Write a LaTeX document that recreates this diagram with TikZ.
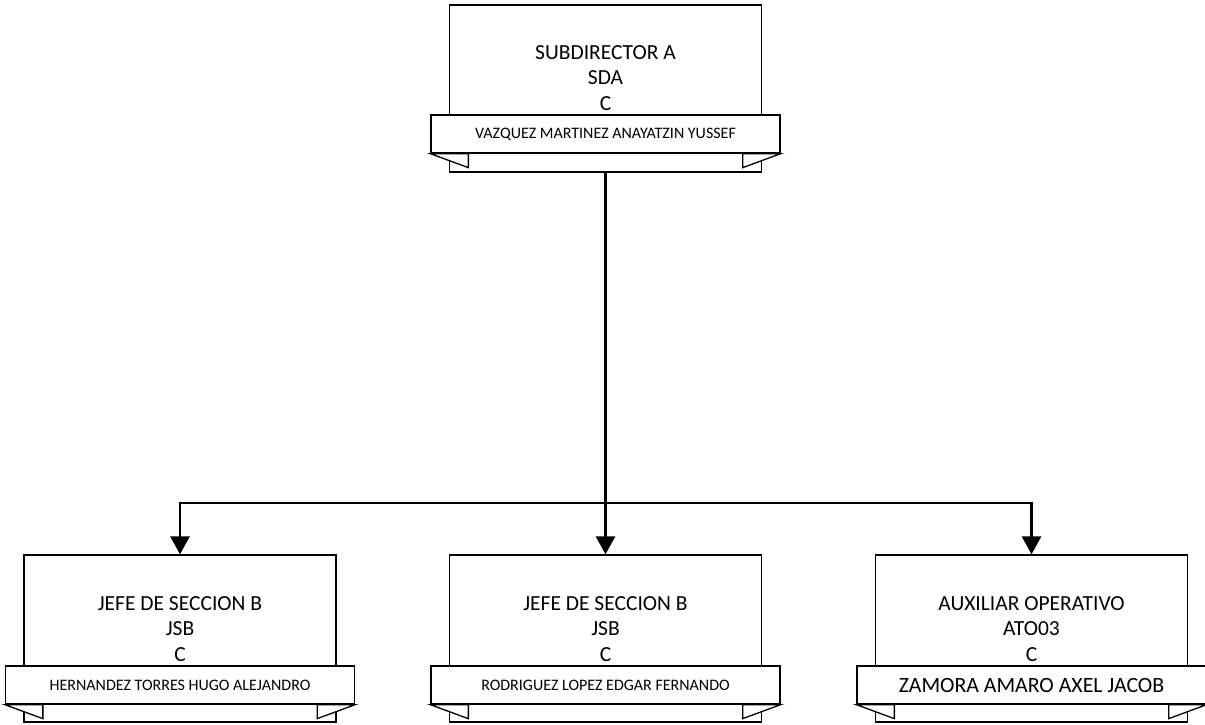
\documentclass[tikz,border=0pt]{standalone}
\usepackage{fontspec}
\setmainfont{Carlito}
\usetikzlibrary{arrows.meta}
\tikzset{
  boxst/.style={draw=black, line width=1.3pt, fill=white, rectangle, minimum width=312pt, inner sep=0pt},
  bannerst/.style={draw=black, line width=1.3pt, fill=white, rectangle, minimum width=349pt, minimum height=38pt, inner sep=0pt},
  tabst/.style={draw=black, line width=1.3pt, fill=white, line join=miter},
  titlest/.style={align=center, inner sep=0pt, font=\fontsize{21.5}{25.5}\selectfont},
  smallname/.style={font=\fontsize{16}{18}\selectfont},
  bigname/.style={font=\fontsize{21.8}{25}\selectfont},
  conn/.style={draw=black, line width=2.7pt, -{Triangle[width=19pt,length=18pt]}},
}
\newcommand{\orgunit}[7]{%
  \node[boxst, minimum height={(#4)-(#3)}] (#1) at (#2,{((#3)+(#4))/2}) {};
  \node[bannerst, #7] (#1b) at (#2,{(#5)+19}) {#6};
  \draw[tabst] (#1b.south west) -- ++(38,14) -- ++(0,-14) -- cycle;
  \draw[tabst] (#1b.south east) -- ++(-38,14) -- ++(0,-14) -- cycle;
}
\begin{document}
\begin{tikzpicture}[x=1pt,y=-1pt]
\useasboundingbox (0,0) rectangle (1205,724);
\fill[white] (0,0) rectangle (1205,724);
% top unit
\orgunit{top}{605.5}{5}{172}{115}{VAZQUEZ MARTINEZ ANAYATZIN YUSSEF}{smallname}
\node[titlest] (topt) at (605.5,78) {SUBDIRECTOR A\\SDA\\C};
% bottom units
\orgunit{left}{180}{555}{722}{666}{HERNANDEZ TORRES HUGO ALEJANDRO}{smallname}
\node[titlest] (leftt) at (180,629) {JEFE DE SECCION B\\JSB\\C};
\orgunit{mid}{605.5}{555}{722}{666}{RODRIGUEZ LOPEZ EDGAR FERNANDO}{smallname}
\node[titlest] (midt) at (605.5,629) {JEFE DE SECCION B\\JSB\\C};
\orgunit{right}{1031.5}{555}{722}{666}{ZAMORA AMARO AXEL JACOB}{bigname}
\node[titlest] (rightt) at (1031.5,629) {AUXILIAR OPERATIVO\\ATO03\\C};
% connectors
\coordinate (bus) at (605.5,503);
\draw[conn] (top.south) -- (mid.north);
\draw[conn] (bus) -| (left.north);
\draw[conn] (bus) -| (right.north);
\end{tikzpicture}
\end{document}
